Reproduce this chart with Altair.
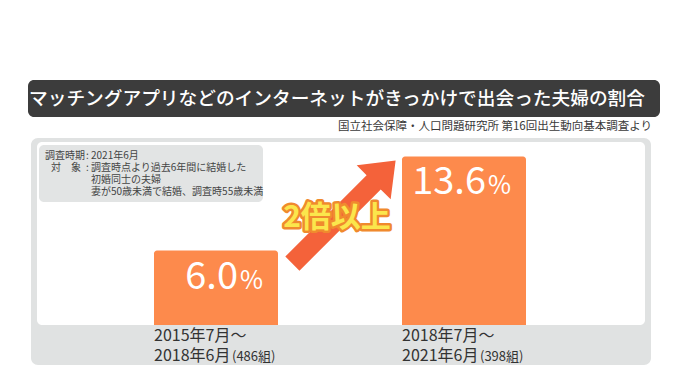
import altair as alt
import pandas as pd

# ---- data ----
categories = ["2015年7月～2018年6月", "2018年7月～2021年6月"]
values = [6.0, 13.6]
value_labels = ["6.0", "13.6"]
label_line1 = ["2015年7月～", "2018年7月～"]
label_line2 = ["2018年6月", "2021年6月"]
label_counts = ["(486組)", "(398組)"]

title_text = "マッチングアプリなどのインターネットがきっかけで出会った夫婦の割合"
source_text = "国立社会保障・人口問題研究所 第16回出生動向基本調査より"
note_head1 = "調査時期"
note_head2 = "対　象"
note_lines = ["2021年6月", "調査時点より過去6年間に結婚した", "初婚同士の夫婦", "妻が50歳未満で結婚、調査時55歳未満"]
callout_text = "2倍以上"

FONT = "Noto Sans CJK JP"

df = pd.DataFrame({
    "cat": categories,
    "value": values,
    "vlabel": value_labels,
    "l1": label_line1,
    "l2": label_line2,
    "cnt": label_counts,
})

xscale = alt.Scale(domain=categories, range=[84, 580], paddingInner=0.5, paddingOuter=0.25)
yscale = alt.Scale(domain=[0, 13.6], range=[317, 148.4])
X = alt.X("cat:N", scale=xscale, axis=None)
Xl = alt.X("cat:N", scale=xscale, axis=None, bandPosition=0)
Y = alt.Y("value:Q", scale=yscale, axis=None)

one = alt.Data(values=[{"a": 1}])

def box(x1, x2, y1, y2, color, r):
    return alt.Chart(one).mark_rect(color=color, cornerRadius=r).encode(
        x=alt.value(x1), x2=alt.value(x2), y=alt.value(y1), y2=alt.value(y2))

def label(text, x, y, size, color="#444", align="left", baseline="alphabetic", **kw):
    return alt.Chart(one).mark_text(text=text, font=FONT, fontSize=size, color=color,
                                    align=align, baseline=baseline, **kw).encode(
        x=alt.value(x), y=alt.value(y))

title_bar = box(20, 652, 72, 109, "#3c3c3c", 6)
title = label(title_text, 329, 91, 18.7, color="white", align="center", baseline="middle", fontWeight=500)
source = label(source_text, 644, 119, 11.5, color="#3a3a3a", align="right", baseline="middle")

outer = box(23, 643, 130, 357, "#e0e2e2", 7)
inner = box(29, 637, 134, 317, "white", 5)
notebox = box(31, 255, 137, 194, "#e2e4e4", 5)

notes = [
    label(note_head1, 37, 151, 10),
    label(note_head2, 43, 163, 10),
    label(":", 78, 151, 10),
    label(":", 78, 163, 10),
]
for i, line in enumerate(note_lines):
    notes.append(label(line, 83, 151 + 12 * i, 10))

bars = alt.Chart(df).mark_bar(color="#fd8a4c", cornerRadiusTopLeft=3, cornerRadiusTopRight=3).encode(
    x=X, y=Y, y2=alt.datum(0))

num = alt.Chart(df).mark_text(font=FONT, fontSize=38, color="white", align="right", baseline="alphabetic", dx=22, dy=38).encode(
    x=X, y=Y, text="vlabel:N")
pct = alt.Chart(df).mark_text(text="%", font=FONT, fontSize=25, color="white", align="left", baseline="alphabetic", dx=24, dy=38).encode(
    x=X, y=Y)

lab1 = alt.Chart(df).mark_text(font=FONT, fontSize=16, color="#333", align="left", baseline="middle").encode(
    x=Xl, y=alt.value(328), text="l1:N")
lab2 = alt.Chart(df).mark_text(font=FONT, fontSize=16, color="#333", align="left", baseline="middle").encode(
    x=Xl, y=alt.value(348), text="l2:N")
lab3 = alt.Chart(df).mark_text(font=FONT, fontSize=13, color="#333", align="left", baseline="middle", dx=78).encode(
    x=Xl, y=alt.value(349), text="cnt:N")

arrow_path = "M -1 -0.137 L 0.575 -0.137 L 0.575 -0.329 L 1 0 L 0.575 0.329 L 0.575 0.137 L -1 0.137 Z"
arrow = alt.Chart(one).mark_point(shape=arrow_path, filled=True, fill="#f4623a", opacity=1, strokeWidth=0,
                                  size=21316, angle=315).encode(x=alt.value(336), y=alt.value(204))

call_stroke = label(callout_text, 329, 210, 30, color="#f08a2e", align="center", baseline="middle",
                    fontWeight="bold", stroke="#f08a2e", strokeWidth=5, strokeJoin="round")
call_fill = label(callout_text, 329, 210, 30, color="#fbe64c", align="center", baseline="middle",
                  fontWeight="bold")

chart = alt.layer(
    title_bar, title, source, outer, inner, notebox, *notes,
    bars, num, pct, lab1, lab2, lab3, arrow, call_stroke, call_fill,
    data=df,
).properties(width=664, height=366, padding=0, autosize="none", background="white").configure_view(stroke=None)

chart.save("out.html", embed_options={"renderer": "svg", "actions": False})
